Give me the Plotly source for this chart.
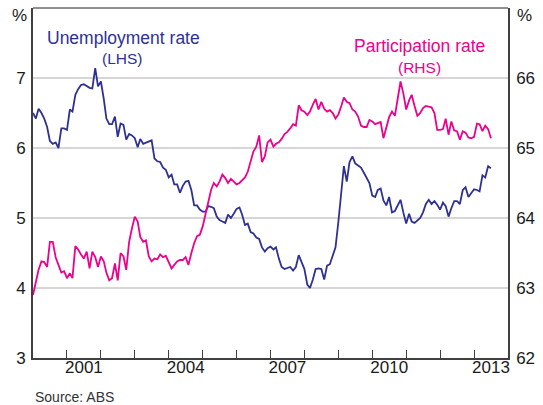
import pandas as pd
import plotly.graph_objects as go

# Monthly data, Jan 2000 - Jul 2013
months = pd.date_range('2000-01-01', periods=163, freq='MS')

unemployment = [
    6.50, 6.42, 6.56, 6.50, 6.42, 6.30, 6.10, 6.06, 6.08, 6.00,
    6.28, 6.28, 6.26, 6.55, 6.52, 6.76, 6.84, 6.90, 6.91, 6.88,
    6.86, 6.85, 7.14, 6.88, 6.95, 6.70, 6.42, 6.34, 6.34, 6.45,
    6.16, 6.35, 6.33, 6.12, 6.20, 6.18, 6.14, 6.01, 6.13, 6.06,
    6.08, 6.09, 6.11, 5.85, 5.81, 5.80, 5.72, 5.69, 5.58, 5.62,
    5.48, 5.48, 5.36, 5.46, 5.52, 5.53, 5.40, 5.18, 5.18, 5.12,
    5.09, 5.09, 5.17, 5.16, 5.14, 5.02, 4.97, 4.95, 4.93, 5.05,
    5.00, 5.06, 5.13, 5.15, 5.05, 4.90, 4.92, 4.80, 4.78, 4.72,
    4.70, 4.58, 4.52, 4.57, 4.59, 4.55, 4.58, 4.42, 4.30, 4.27,
    4.29, 4.30, 4.25, 4.30, 4.47, 4.38, 4.27, 4.05, 4.00, 4.12,
    4.27, 4.28, 4.27, 4.12, 4.32, 4.34, 4.45, 4.58, 4.95, 5.40,
    5.74, 5.52, 5.80, 5.88, 5.78, 5.75, 5.72, 5.65, 5.58, 5.50,
    5.32, 5.30, 5.40, 5.42, 5.25, 5.18, 5.30, 5.08, 5.10, 5.18,
    5.26, 5.08, 4.92, 5.06, 4.95, 4.93, 4.96, 5.00, 5.08, 5.20,
    5.26, 5.20, 5.24, 5.19, 5.12, 5.22, 5.17, 5.02, 5.14, 5.24,
    5.24, 5.20, 5.40, 5.44, 5.30, 5.36, 5.41, 5.40, 5.38, 5.61,
    5.58, 5.74, 5.71,
]

participation = [
    62.90, 63.07, 63.26, 63.38, 63.37, 63.30, 63.66, 63.66, 63.44, 63.33,
    63.22, 63.24, 63.14, 63.21, 63.14, 63.60, 63.55, 63.48, 63.42, 63.52,
    63.28, 63.52, 63.44, 63.30, 63.45, 63.38, 63.22, 63.11, 63.14, 63.35,
    63.11, 63.50, 63.45, 63.26, 63.66, 63.85, 64.02, 63.95, 63.73, 63.66,
    63.68, 63.45, 63.38, 63.42, 63.41, 63.48, 63.44, 63.46, 63.38, 63.28,
    63.33, 63.38, 63.40, 63.40, 63.44, 63.33, 63.50, 63.64, 63.74, 63.76,
    63.88, 64.05, 64.20, 64.40, 64.50, 64.45, 64.52, 64.62, 64.57, 64.50,
    64.56, 64.52, 64.48, 64.50, 64.54, 64.58, 64.66, 64.80, 64.95, 65.02,
    65.18, 64.80, 64.88, 65.08, 65.12, 65.02, 65.06, 65.08, 65.13, 65.20,
    65.23, 65.28, 65.34, 65.32, 65.61, 65.54, 65.52, 65.47, 65.52, 65.62,
    65.70, 65.55, 65.66, 65.56, 65.52, 65.54, 65.50, 65.42, 65.48, 65.60,
    65.72, 65.66, 65.64, 65.55, 65.52, 65.45, 65.32, 65.30, 65.30, 65.40,
    65.38, 65.34, 65.35, 65.37, 65.14, 65.30, 65.44, 65.52, 65.46, 65.70,
    65.95, 65.78, 65.55, 65.68, 65.76, 65.60, 65.46, 65.50, 65.57, 65.60,
    65.59, 65.58, 65.50, 65.26, 65.26, 65.27, 65.42, 65.19, 65.38, 65.25,
    65.24, 65.12, 65.24, 65.22, 65.15, 65.14, 65.16, 65.35, 65.34, 65.24,
    65.32, 65.27, 65.14,
]

year_labels = ['2001', '2004', '2007', '2010', '2013']
year_starts = [f'{y}-01-01' for y in range(2001, 2014)]
left_ticks = [3, 4, 5, 6, 7]
right_ticks = [62, 63, 64, 65, 66]

BLUE = '#2e3192'
PINK = '#ec008c'
AXIS = '#404040'
FONT = 'Arial, Liberation Sans, sans-serif'
X_RANGE = ['2000-01-01', '2014-01-01']

fig = go.Figure()

fig.add_trace(go.Scatter(x=months, y=unemployment, mode='lines',
                         line=dict(color=BLUE, width=1.8), showlegend=False))
# participation sits on the second x axis, which only carries the year labels
fig.add_trace(go.Scatter(x=months, y=participation, mode='lines', xaxis='x2', yaxis='y2',
                         line=dict(color=PINK, width=1.8), showlegend=False))

fig.update_layout(
    width=543, height=405, autosize=False,
    margin=dict(l=33, r=35, t=8, b=47),
    paper_bgcolor='white', plot_bgcolor='white',
    font=dict(family=FONT, size=17, color='#1a1a1a'),
    # year boundary ticks
    xaxis=dict(
        type='date', range=X_RANGE,
        tickvals=year_starts, showticklabels=False,
        ticks='inside', ticklen=8, tickwidth=1, tickcolor=AXIS,
        showgrid=False, zeroline=False,
        showline=True, linecolor=AXIS, linewidth=2,
    ),
    # year labels centred in the year
    xaxis2=dict(
        type='date', range=X_RANGE, overlaying='x', matches='x', anchor='y2', side='bottom',
        tickvals=[f'{y}-07-02' for y in year_labels], ticktext=year_labels,
        ticks='', showgrid=False, zeroline=False, showline=False,
        ticklabelstandoff=-3,
    ),
    yaxis=dict(
        range=[3, 8], tickvals=left_ticks, ticks='',
        showgrid=True, gridcolor='#d6d6d6', gridwidth=1.5, zeroline=False,
        showline=True, linecolor=AXIS, linewidth=2, ticklabelstandoff=2,
    ),
    yaxis2=dict(
        range=[62, 67], tickvals=right_ticks, ticks='',
        overlaying='y', side='right', showgrid=False, zeroline=False,
        showline=True, linecolor=AXIS, linewidth=1.5, ticklabelstandoff=3,
    ),
)

# top border of the frame
fig.add_shape(type='line', xref='paper', yref='paper', x0=0, x1=1, y0=1, y1=1,
              line=dict(color='#202020', width=1))

# unit labels
fig.add_annotation(text='%', xref='paper', yref='paper', x=0, y=1, xanchor='right',
                   yanchor='middle', xshift=-4, yshift=-7, showarrow=False)
fig.add_annotation(text='%', xref='paper', yref='paper', x=1, y=1, xanchor='left',
                   yanchor='middle', xshift=7, yshift=-7, showarrow=False)

# series labels
fig.add_annotation(text='Unemployment rate', xref='paper', yref='paper', x=0.1895, y=0.914,
                   xanchor='center', yanchor='middle', showarrow=False,
                   font=dict(size=17.5, color=BLUE))
fig.add_annotation(text='(LHS)', xref='paper', yref='paper', x=0.188, y=0.855,
                   xanchor='center', yanchor='middle', showarrow=False,
                   font=dict(size=15.5, color=BLUE))
fig.add_annotation(text='Participation rate', xref='paper', yref='paper', x=0.8135, y=0.890,
                   xanchor='center', yanchor='middle', showarrow=False,
                   font=dict(size=17.5, color=PINK))
fig.add_annotation(text='(RHS)', xref='paper', yref='paper', x=0.8135, y=0.831,
                   xanchor='center', yanchor='middle', showarrow=False,
                   font=dict(size=15.5, color=PINK))

fig.add_annotation(text='Source: ABS', xref='paper', yref='paper', x=0, y=-0.112,
                   xanchor='left', yanchor='middle', showarrow=False,
                   font=dict(size=14, color='#333333'))

# drop the default page margin so the chart sits at the window's top-left corner
fig.write_html('out.html', config={'displayModeBar': False},
               post_script="document.body.style.margin='0';")
